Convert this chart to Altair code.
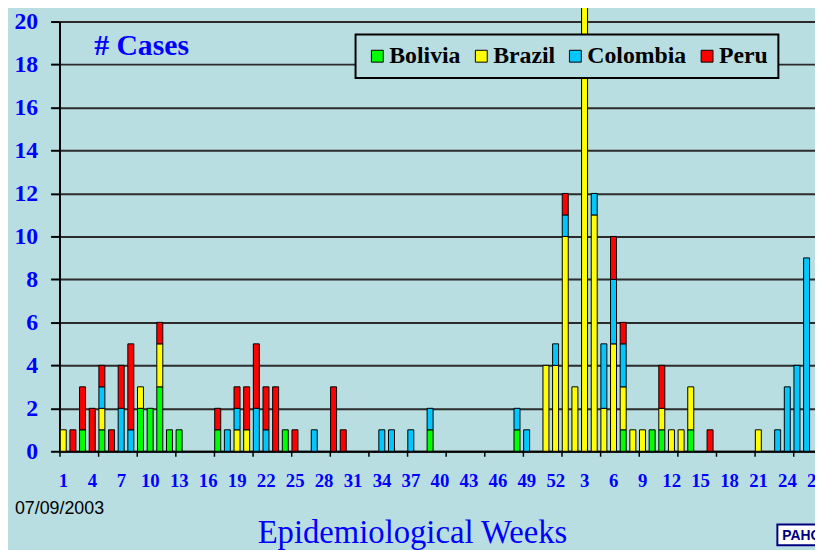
import altair as alt
import pandas as pd

countries = ["Bolivia", "Brazil", "Colombia", "Peru"]
country_colors = ["#00ff00", "#ffff00", "#00c8ff", "#ff0000"]

weeks_2002 = list(range(1, 53))
weeks_2003 = list(range(1, 28))
week_labels = [str(w) for w in weeks_2002 + weeks_2003]

# (year, epidemiological week) and number of cases
bolivia_weeks = [(2002, 3), (2002, 5), (2002, 9), (2002, 10), (2002, 11), (2002, 12), (2002, 13),
                 (2002, 17), (2002, 24), (2002, 39), (2002, 48), (2003, 7), (2003, 10), (2003, 11), (2003, 14)]
bolivia_cases = [1, 1, 2, 2, 3, 1, 1, 1, 1, 1, 1, 1, 1, 1, 1]

brazil_weeks = [(2002, 1), (2002, 5), (2002, 9), (2002, 11), (2002, 19), (2002, 20), (2002, 51), (2002, 52),
                (2003, 1), (2003, 2), (2003, 3), (2003, 4), (2003, 5), (2003, 6), (2003, 7), (2003, 8),
                (2003, 9), (2003, 11), (2003, 12), (2003, 13), (2003, 14), (2003, 21)]
brazil_cases = [1, 1, 1, 2, 1, 1, 4, 4, 10, 3, 21, 11, 2, 5, 2, 1, 1, 1, 1, 1, 2, 1]

colombia_weeks = [(2002, 5), (2002, 7), (2002, 8), (2002, 18), (2002, 19), (2002, 21), (2002, 22), (2002, 27),
                  (2002, 34), (2002, 35), (2002, 37), (2002, 39), (2002, 48), (2002, 49), (2002, 52),
                  (2003, 1), (2003, 4), (2003, 5), (2003, 6), (2003, 7), (2003, 23), (2003, 24), (2003, 25), (2003, 26)]
colombia_cases = [1, 2, 1, 1, 1, 2, 1, 1, 1, 1, 1, 1, 1, 1, 1, 1, 1, 3, 3, 2, 1, 3, 4, 9]

peru_weeks = [(2002, 2), (2002, 3), (2002, 4), (2002, 5), (2002, 6), (2002, 7), (2002, 8), (2002, 11),
              (2002, 17), (2002, 19), (2002, 20), (2002, 21), (2002, 22), (2002, 23), (2002, 25), (2002, 29),
              (2002, 30), (2003, 1), (2003, 6), (2003, 7), (2003, 11), (2003, 16)]
peru_cases = [1, 2, 2, 1, 1, 2, 4, 1, 1, 1, 2, 3, 2, 3, 1, 3, 1, 1, 2, 1, 2, 1]

y_ticks = list(range(0, 21, 2))

BG = "#b9dee1"
BLUE = "#0000ff"

# ---- build table ----
rows = []
series = {
    "Bolivia": (bolivia_weeks, bolivia_cases),
    "Brazil": (brazil_weeks, brazil_cases),
    "Colombia": (colombia_weeks, colombia_cases),
    "Peru": (peru_weeks, peru_cases),
}
for order, name in enumerate(countries):
    wk, cs = series[name]
    for (yr, w), c in zip(wk, cs):
        idx = (w - 1) if yr == 2002 else len(weeks_2002) + w - 1
        rows.append({"country": name, "order": order, "idx": idx, "cases": c})
df = pd.DataFrame(rows).sort_values(["idx", "order"]).reset_index(drop=True)
df["top"] = df.groupby("idx")["cases"].cumsum()
df["base"] = df["top"] - df["cases"]

n_slots = len(week_labels)
label_df = pd.DataFrame({"idx": list(range(0, n_slots, 3)),
                         "label": [week_labels[i] for i in range(0, n_slots, 3)]})

W = 763
H = 434
x_max = 78.26

x_scale = alt.Scale(domain=[0, x_max], nice=False, zero=False)
y_scale = alt.Scale(domain=[0, 20], nice=False)

bars = alt.Chart(df).transform_calculate(
    x0="datum.idx + 0.08", x1="datum.idx + 0.70"
).mark_bar(stroke="black", strokeWidth=1).encode(
    x=alt.X("x0:Q", scale=x_scale, axis=alt.Axis(
        values=list(range(0, n_slots)), labels=False, grid=False,
        tickSize=5, tickColor="black", tickWidth=1.5,
        domainColor="black", domainWidth=2,
        title="Epidemiological Weeks", titleFont="Liberation Serif", titleFontSize=33,
        titleFontWeight="normal", titleColor=BLUE, titleX=356, titleY=92,
        titleAlign="center", titleBaseline="alphabetic")),
    x2="x1:Q",
    y=alt.Y("base:Q", scale=y_scale, axis=alt.Axis(
        values=y_ticks, grid=True, gridColor="#2b2b2b", gridWidth=2,
        domainColor="black", domainWidth=2, tickColor="black", tickWidth=2, tickSize=9,
        labelFont="Liberation Serif", labelFontSize=24, labelFontWeight="bold",
        labelColor=BLUE, labelPadding=13, title=None)),
    y2="top:Q",
    color=alt.Color("country:N", scale=alt.Scale(domain=countries, range=country_colors),
                    legend=alt.Legend(orient="none", legendX=299, legendY=13, direction="horizontal",
                                      columns=4, title=None, labelFont="Liberation Serif",
                                      labelFontSize=24, labelFontWeight="bold", labelColor="black",
                                      symbolType="square", symbolSize=144, symbolStrokeColor="black",
                                      symbolStrokeWidth=1, symbolOpacity=1, fillColor=BG,
                                      strokeColor="black", padding=10, labelOffset=0,
                                      columnPadding=8, labelLimit=0)),
)

week_text = alt.Chart(label_df).transform_calculate(
    xc="datum.idx + 0.41"
).mark_text(
    font="Liberation Serif", fontSize=19, fontWeight="bold", color=BLUE,
    align="center", baseline="middle"
).encode(x=alt.X("xc:Q", scale=x_scale), y=alt.value(H + 30), text="label:N")

cases_text = alt.Chart(pd.DataFrame({"t": ["# Cases"]})).mark_text(
    font="Liberation Serif", fontSize=30, fontWeight="bold", color=BLUE,
    align="left", baseline="alphabetic"
).encode(x=alt.value(35), y=alt.value(34), text="t:N")

date_text = alt.Chart(pd.DataFrame({"t": ["07/09/2003"]})).mark_text(
    font="Liberation Sans", fontSize=18, color="black", align="left", baseline="alphabetic"
).encode(x=alt.value(-45), y=alt.value(497), text="t:N")

logo_box = alt.Chart(pd.DataFrame({"t": ["PAHO"]})).mark_rect(
    fill="white", stroke="#000080", strokeWidth=2
).encode(x=alt.value(725), x2=alt.value(780), y=alt.value(508), y2=alt.value(529))

logo_text = alt.Chart(pd.DataFrame({"t": ["PAHO"]})).mark_text(
    font="Liberation Sans", fontSize=14, fontWeight="bold", color="#000080",
    align="left", baseline="alphabetic"
).encode(x=alt.value(730), y=alt.value(524), text="t:N")

chart = alt.layer(bars, week_text, cases_text, date_text, logo_box, logo_text).properties(
    width=W, height=H,
    autosize=alt.AutoSizeParams(type="none"),
    padding={"left": 52, "top": 11, "right": 0, "bottom": 97},
).configure(background=BG).configure_view(stroke=None).configure_legend(strokeWidth=2)

chart.save("out.html", embed_options={"renderer": "svg", "actions": False})
